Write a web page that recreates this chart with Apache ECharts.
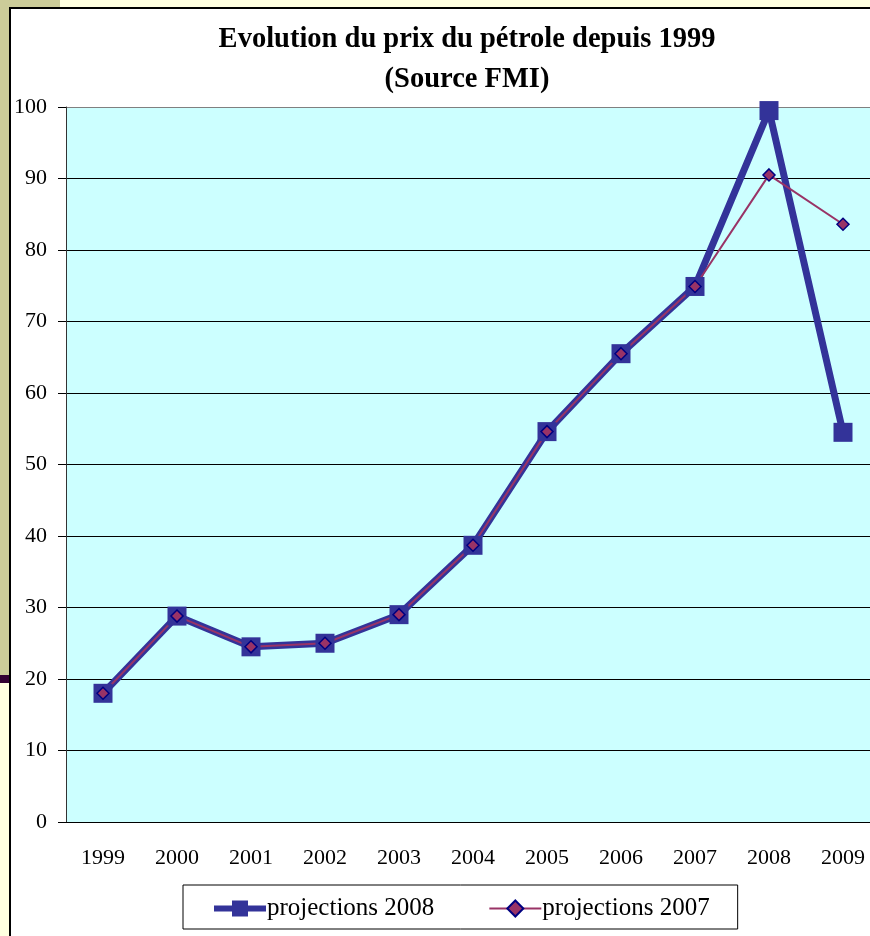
<!DOCTYPE html>
<html>
<head>
<meta charset="utf-8">
<script src="https://cdn.jsdelivr.net/npm/echarts@6/dist/echarts.min.js"></script>
<style>
  body { margin: 0; background: #ffffe0; overflow: hidden; }
  .khaki { position: absolute; left: 0; top: 0; width: 60px; height: 676px; background: #cccc99; }
  .khakiBar { position: absolute; left: 0; top: 675px; width: 10px; height: 8px; background: #330033; }
  .box { position: absolute; left: 9px; top: 7px; width: 880px; height: 950px; background: #fff; border: 2px solid #000; }
  #chart { position: absolute; left: 0; top: 0; width: 880px; height: 936px; }
</style>
</head>
<body>
<div class="khaki"></div>
<div class="khakiBar"></div>
<div class="box"></div>
<div id="chart"></div>
<script>
// données
var years = ["1999", "2000", "2001", "2002", "2003", "2004", "2005", "2006", "2007", "2008", "2009"];
var proj2008 = [18, 28.8, 24.5, 25, 29, 38.7, 54.6, 65.5, 74.9, 99.5, 54.5];
var proj2007 = [18, 28.8, 24.5, 25, 29, 38.7, 54.6, 65.5, 74.9, 90.5, 83.6];

var serif = "'Liberation Serif', 'DejaVu Serif', serif";
var myChart = echarts.init(document.getElementById("chart"));
myChart.setOption({
  backgroundColor: "transparent",
  animation: false,
  title: {
    text: "Evolution du prix du pétrole depuis 1999\n(Source FMI)",
    left: 462,
    top: 15,
    textAlign: "center",
    textStyle: {
      fontFamily: serif,
      fontSize: 28.5,
      fontWeight: "bold",
      color: "#000",
      lineHeight: 40
    }
  },
  legend: {
    left: 183,
    top: 885,
    padding: [11, 28, 8, 28],
    itemGap: 54,
    itemWidth: 52,
    itemHeight: 20,
    borderColor: "#000",
    borderWidth: 1,
    textStyle: { fontFamily: serif, fontSize: 25, color: "#000", padding: [0, 0, 0, -4] },
    data: [
      { name: "projections 2008", lineStyle: { width: 6 } },
      { name: "projections 2007" }
    ]
  },
  grid: {
    left: 66,
    top: 107,
    right: 0,
    bottom: 114,
    show: true,
    backgroundColor: "#ccffff",
    borderWidth: 0
  },
  xAxis: {
    type: "category",
    data: years,
    axisLine: { lineStyle: { color: "#000", width: 1 } },
    axisTick: { length: 7, lineStyle: { color: "#000" } },
    axisLabel: { fontFamily: serif, fontSize: 22, color: "#000", margin: 25 }
  },
  yAxis: {
    type: "value",
    min: 0,
    max: 100,
    interval: 10,
    axisLine: { show: true, lineStyle: { color: "#333", width: 1 } },
    axisTick: { show: true, length: 8, lineStyle: { color: "#000" } },
    axisLabel: { fontFamily: serif, fontSize: 22, color: "#000", margin: 19 },
    splitLine: {
      lineStyle: {
        color: ["#000", "#000", "#000", "#000", "#000", "#000", "#000", "#000", "#000", "#000", "#808080"],
        width: 1
      }
    }
  },
  series: [
    {
      name: "projections 2008",
      type: "line",
      data: proj2008,
      symbol: "rect",
      symbolSize: 19,
      lineStyle: { color: "#333399", width: 7 },
      itemStyle: { color: "#333399" }
    },
    {
      name: "projections 2007",
      type: "line",
      data: proj2007,
      symbol: "diamond",
      symbolSize: 12,
      lineStyle: { color: "#993366", width: 2 },
      itemStyle: { color: "#993366", borderColor: "#000080", borderWidth: 1.5 }
    }
  ]
});
</script>
</body>
</html>
